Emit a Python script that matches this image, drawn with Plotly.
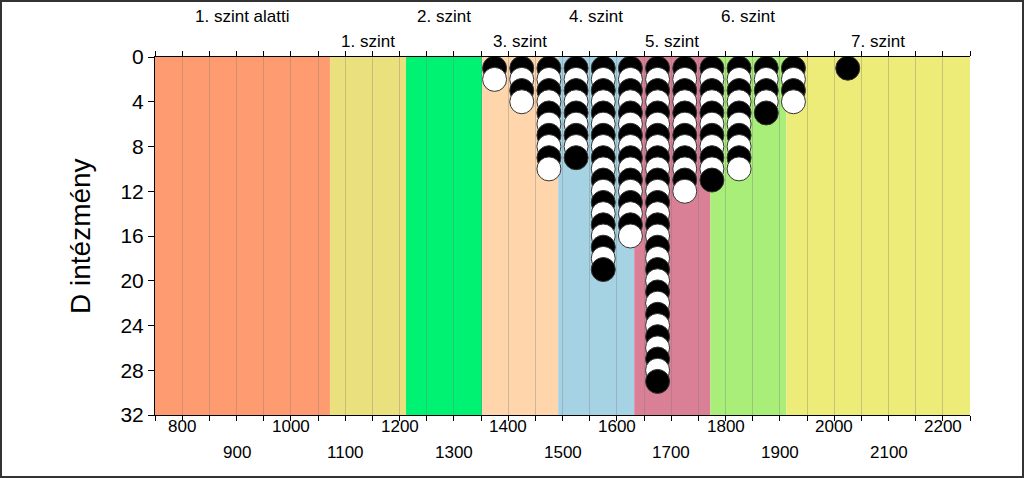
import plotly.graph_objects as go

# ---- data ----
bin_centers = [1375, 1425, 1475, 1525, 1575, 1625, 1675, 1725, 1775, 1825, 1875, 1925, 2025]
bin_counts = [2, 4, 10, 9, 19, 16, 29, 12, 11, 10, 5, 4, 1]

band_edges = [750, 1072, 1212, 1352, 1492, 1632, 1772, 1912, 2250]
band_names = ["1. szint alatti", "1. szint", "2. szint", "3. szint",
              "4. szint", "5. szint", "6. szint", "7. szint"]
band_colors = ["#FF9B70", "#EBE07E", "#00F272", "#FFD6AC",
               "#A6D3E3", "#D98096", "#A9EE78", "#EEEC78"]

x_tick_values = [800, 900, 1000, 1100, 1200, 1300, 1400, 1500,
                 1600, 1700, 1800, 1900, 2000, 2100, 2200]
y_tick_values = [0, 4, 8, 12, 16, 20, 24, 28, 32]
y_title = "D intézmény"

# ---- layout geometry ----
W, H = 1024, 478
ML, MR, MT, MB = 155, 54, 57, 63
PW, PH = W - ML - MR, H - MT - MB
FONT = "Liberation Sans, Arial, sans-serif"

# ---- points ----
xs, ys, cols = [], [], []
for c, n in zip(bin_centers, bin_counts):
    for k in range(1, n + 1):
        xs.append(c)
        ys.append(k)
        cols.append("black" if k % 2 == 1 else "white")

fig = go.Figure()
fig.add_trace(go.Scatter(
    x=xs, y=ys, mode="markers",
    marker=dict(size=24, color=cols, line=dict(color="#333333", width=1)),
    hoverinfo="skip", showlegend=False,
))

shapes = []
for i in range(len(band_colors)):
    shapes.append(dict(type="rect", xref="x", yref="paper",
                       x0=band_edges[i], x1=band_edges[i + 1], y0=0, y1=1,
                       fillcolor=band_colors[i], line=dict(width=0), layer="below"))
# outer frame
shapes.append(dict(type="rect", xref="paper", yref="paper",
                   x0=(-ML + 1) / PW, x1=1 + (MR - 1) / PW,
                   y0=(-MB + 1) / PH, y1=1 + (MT - 1) / PH,
                   line=dict(color="#333333", width=2), fillcolor="rgba(0,0,0,0)"))

annotations = []
for i, name in enumerate(band_names):
    cx = (band_edges[i] + band_edges[i + 1]) / 2
    ypx = 17 if i % 2 == 0 else 41
    annotations.append(dict(x=cx, xref="x", y=1 + (MT - ypx) / PH, yref="paper",
                            text=name, showarrow=False, xanchor="center", yanchor="middle",
                            font=dict(family=FONT, size=17, color="black")))
for j, v in enumerate(x_tick_values):
    ypx = 426 if j % 2 == 0 else 452
    annotations.append(dict(x=v, xref="x", y=-(ypx - (MT + PH)) / PH, yref="paper",
                            text=str(v), showarrow=False, xanchor="center", yanchor="middle",
                            font=dict(family=FONT, size=17, color="black")))
annotations.append(dict(x=(80 - ML) / PW, xref="paper", y=0.5, yref="paper",
                        text=y_title, textangle=-90, showarrow=False,
                        xanchor="center", yanchor="middle",
                        font=dict(family=FONT, size=28, color="black")))

fig.update_layout(
    width=W, height=H,
    margin=dict(l=ML, r=MR, t=MT, b=MB),
    paper_bgcolor="white", plot_bgcolor="white",
    shapes=shapes, annotations=annotations,
    xaxis=dict(range=[band_edges[0], band_edges[-1]], tick0=750, dtick=50,
               showticklabels=False, ticks="outside", ticklen=5, tickcolor="black",
               showline=True, linecolor="black", linewidth=1, mirror="ticks",
               showgrid=True, gridcolor="rgba(120,120,120,0.35)", gridwidth=1,
               zeroline=False, fixedrange=True),
    yaxis=dict(range=[32, 0], tickvals=y_tick_values, ticks="outside", ticklen=6,
               tickcolor="black", showline=True, linecolor="black", linewidth=1,
               showgrid=False, zeroline=False,
               tickfont=dict(family=FONT, size=21, color="black"), fixedrange=True),
    font=dict(family=FONT),
)

fig.write_html("out.html", config={"displayModeBar": False},
               post_script="document.body.style.margin='0';document.body.style.overflow='hidden';")
